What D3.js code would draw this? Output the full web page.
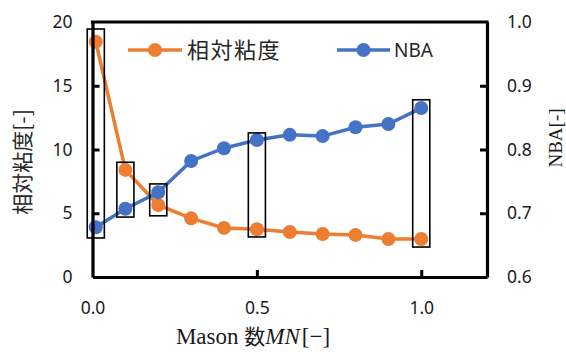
<!DOCTYPE html>
<html><head><meta charset="utf-8">
<script src="https://cdn.jsdelivr.net/npm/d3@7"></script>
<style>
html,body{margin:0;padding:0;background:#fff;}
svg{display:block;}
</style></head>
<body>
<svg id="chart" width="566" height="352"></svg>
<script>
// ---- data ----
const masonNumbers = [0.01, 0.1, 0.2, 0.3, 0.4, 0.5, 0.6, 0.7, 0.8, 0.9, 1.0];
const relViscosity = [18.45, 8.4, 5.65, 4.6, 3.85, 3.75, 3.53, 3.37, 3.3, 2.98, 2.98];
const nbaValues = [0.678, 0.707, 0.733, 0.782, 0.802, 0.815, 0.823, 0.821, 0.835, 0.840, 0.865];
const seriesNames = ["相対粘度", "NBA"];
const xTicks = [0, 0.5, 1.0];
const yLeftTicks = [0, 5, 10, 15, 20];
const yRightTicks = [0.6, 0.7, 0.8, 0.9, 1.0];
// highlight boxes: centre x, low/high in left-axis units
const boxX = [0.01, 0.1, 0.2, 0.5, 1.0];
const boxLow = [3.06, 4.7, 4.8, 3.14, 2.35];
const boxHigh = [19.45, 9.0, 7.3, 11.3, 13.9];
const boxHalfWidth = 0.026;

const svg = d3.select("#chart");
const L = 92.5, R = 487, T = 22, B = 277;
const x = d3.scaleLinear().domain([0, 1.2]).range([L, R]);
const yL = d3.scaleLinear().domain([0, 20]).range([B, T]);
const yR = d3.scaleLinear().domain([0.6, 1.0]).range([B, T]);

const orange = "#ED7D31", blue = "#4472C4";
const tickFont = "'Noto Sans', sans-serif";
const cjkFont = "'Noto Sans CJK JP', sans-serif";
const serif = "'Liberation Serif', 'DejaVu Serif', serif";

// series lines + markers
function drawSeries(vals, yScale, color) {
  const line = d3.line().x((d, i) => x(masonNumbers[i])).y(d => yScale(d));
  svg.append("path").datum(vals).attr("d", line)
    .attr("fill", "none").attr("stroke", color).attr("stroke-width", 3.5);
  svg.append("g").selectAll("circle").data(vals).join("circle")
    .attr("cx", (d, i) => x(masonNumbers[i])).attr("cy", d => yScale(d))
    .attr("r", 7).attr("fill", color);
}
drawSeries(relViscosity, yL, orange);
drawSeries(nbaValues, yR, blue);

// highlight boxes
svg.append("g").selectAll("rect").data(boxX).join("rect")
  .attr("x", (d) => x(d - boxHalfWidth))
  .attr("width", (d) => x(d + boxHalfWidth) - x(d - boxHalfWidth))
  .attr("y", (d, i) => yL(boxHigh[i]))
  .attr("height", (d, i) => yL(boxLow[i]) - yL(boxHigh[i]))
  .attr("fill", "none").attr("stroke", "#000").attr("stroke-width", 1.6);

// axes
function styleAxis(g) {
  g.select(".domain").attr("stroke", "#000").attr("stroke-width", 3.2);
  g.selectAll(".tick line").attr("stroke", "#000").attr("stroke-width", 3);
  g.selectAll(".tick text").attr("font-family", tickFont).attr("font-size", 17.5).attr("fill", "#1a1a1a");
}
const ax = svg.append("g").attr("transform", `translate(0,${B})`)
  .call(d3.axisBottom(x).tickValues(xTicks).tickFormat(d3.format(".1f")).tickSizeInner(-7).tickSizeOuter(0).tickPadding(25));
styleAxis(ax);
ax.selectAll(".tick").filter(d => d === 0).select("line").remove();
const ayl = svg.append("g").attr("transform", `translate(${L},0)`)
  .call(d3.axisLeft(yL).tickValues(yLeftTicks).tickSizeInner(-7).tickSizeOuter(0).tickPadding(20));
styleAxis(ayl);
ayl.selectAll(".tick").filter(d => d === 0 || d === 20).select("line").remove();
const ayr = svg.append("g").attr("transform", `translate(${R},0)`)
  .call(d3.axisRight(yR).tickValues(yRightTicks).tickFormat(d3.format(".1f")).tickSizeInner(-7).tickSizeOuter(0).tickPadding(20));
styleAxis(ayr);
ayr.selectAll(".tick").filter(d => d === 0.6 || d === 1.0).select("line").remove();
// top border
svg.append("line").attr("x1", L - 1.6).attr("x2", R + 1.6).attr("y1", T).attr("y2", T)
  .attr("stroke", "#000").attr("stroke-width", 3.2);

// legend
const legendItems = [
  {name: seriesNames[0], color: orange, x0: 128, x1: 182, tx: 187, font: cjkFont, size: 22},
  {name: seriesNames[1], color: blue, x0: 337, x1: 390, tx: 394, font: tickFont, size: 19}
];
const ly = 50;
legendItems.forEach(it => {
  svg.append("line").attr("x1", it.x0).attr("x2", it.x1).attr("y1", ly).attr("y2", ly)
    .attr("stroke", it.color).attr("stroke-width", 3.5);
  svg.append("circle").attr("cx", (it.x0 + it.x1) / 2).attr("cy", ly).attr("r", 7).attr("fill", it.color);
  svg.append("text").attr("x", it.tx).attr("y", ly).attr("dy", "0.36em")
    .attr("font-family", it.font).attr("font-size", it.size).attr("fill", "#262626")
    .attr("letter-spacing", it.font === cjkFont ? 1.5 : 0).text(it.name);
});

// axis titles
svg.append("text").attr("transform", "translate(30,162) rotate(-90)")
  .attr("text-anchor", "middle").attr("font-family", cjkFont).attr("font-size", 21)
  .attr("fill", "#262626").text("相対粘度[-]");
svg.append("text").attr("transform", "translate(562,138) rotate(-90)")
  .attr("text-anchor", "middle").attr("font-family", serif).attr("font-size", 19)
  .attr("fill", "#1a1a1a").text("NBA[-]");
const xt = svg.append("text").attr("x", 253).attr("y", 344).attr("text-anchor", "middle")
  .attr("font-size", 23).attr("fill", "#1a1a1a");
xt.append("tspan").attr("font-family", serif).text("Mason ");
xt.append("tspan").attr("font-family", cjkFont).attr("font-size", 21).text("数");
xt.append("tspan").attr("font-family", serif).attr("font-style", "italic").text("MN");
xt.append("tspan").attr("font-family", serif).attr("dx", 2).text("[−]");
</script>
</body></html>
